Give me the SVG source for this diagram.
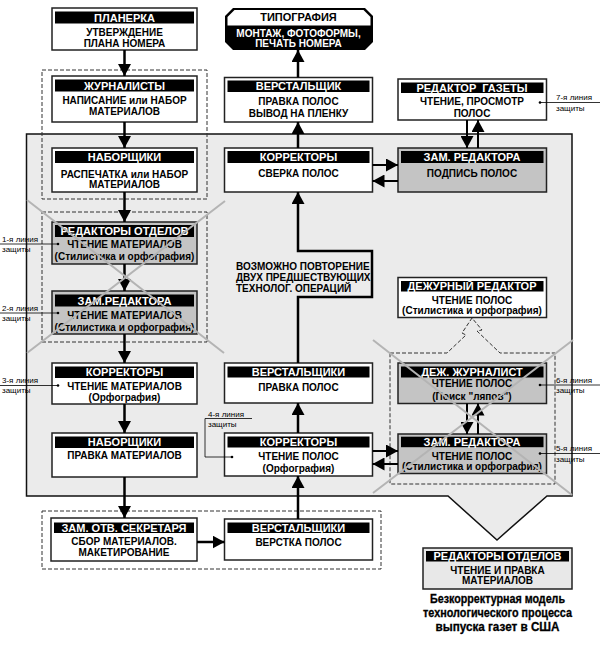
<svg xmlns="http://www.w3.org/2000/svg" width="600" height="645" viewBox="0 0 600 645">
<style>
.box{fill:#fff;stroke:#222;stroke-width:1.5}
.gbox{fill:#c4c4c4;stroke:#222;stroke-width:1.5}
.lbox{fill:#e8e8e8;stroke:#222;stroke-width:1.5}
.hdr{fill:#000}
.ht{font-family:"Liberation Sans",Arial,sans-serif;font-size:11px;font-weight:bold;fill:#fff;text-anchor:middle}
.bt{font-family:"Liberation Sans",Arial,sans-serif;font-size:10px;font-weight:bold;fill:#000;text-anchor:middle}
.note{font-family:"Liberation Sans",Arial,sans-serif;font-size:10px;font-weight:bold;fill:#000}
.lbl{font-family:"Liberation Sans",Arial,sans-serif;font-size:8px;fill:#000}
.cap{font-family:"Liberation Sans Narrow","Liberation Sans",Arial,sans-serif;font-size:12px;font-weight:bold;fill:#000;text-anchor:middle;stroke:#000;stroke-width:0.3}
.dash{fill:none;stroke:#333;stroke-width:1;stroke-dasharray:4 2}
.cn{fill:none;stroke:#000;stroke-width:2.5}
.cn2{fill:none;stroke:#000;stroke-width:2}
.lead{fill:none;stroke:#000;stroke-width:0.8}
.xl{stroke:#b4b4b4;stroke-width:2;fill:none}
</style>
<defs>
<marker id="ah" viewBox="0 0 12 13" refX="12" refY="6.5" markerWidth="12" markerHeight="13" markerUnits="userSpaceOnUse" orient="auto"><path d="M0,0 L12,6.5 L0,13 Z" fill="#000"/></marker>
</defs>

<g id="background">
<polygon points="26.5,134 572,134 572,496 547,496 497,540 448,496 26.5,496" fill="#ebebeb" stroke="#111" stroke-width="1.5"/>
</g>

<g id="groups">
<rect class="dash" x="42" y="70" width="165" height="129"/>
<rect class="dash" x="42" y="212" width="165" height="130"/>
<rect class="dash" x="42" y="511" width="339" height="58"/>
<path class="dash" d="M390,353 H447 L466,335 L462,333 L472,318 L482,330 L477,331 L500,353 H555 V484 H390 Z"/>
</g>

<g id="n-planerka">
<rect class="box" x="52" y="8" width="145" height="42"/>
<rect class="hdr" x="55" y="11.5" width="139" height="12"/>
<text class="ht" x="124.5" y="21.5">ПЛАНЕРКА</text>
<text class="bt" x="124.5" y="36">УТВЕРЖДЕНИЕ</text>
<text class="bt" x="124.5" y="47">ПЛАНА НОМЕРА</text>
</g>

<g id="n-zhurnalisty">
<rect class="box" x="52" y="76" width="145" height="46"/>
<rect class="hdr" x="55" y="79.5" width="139" height="12"/>
<text class="ht" x="124.5" y="89.5">ЖУРНАЛИСТЫ</text>
<text class="bt" x="124.5" y="103.5">НАПИСАНИЕ или НАБОР</text>
<text class="bt" x="124.5" y="115">МАТЕРИАЛОВ</text>
</g>

<g id="n-naborshchiki-1">
<rect class="box" x="52" y="148" width="145" height="44"/>
<rect class="hdr" x="55" y="151" width="139" height="12"/>
<text class="ht" x="124.5" y="161">НАБОРЩИКИ</text>
<text class="bt" x="124.5" y="177.5">РАСПЕЧАТКА или НАБОР</text>
<text class="bt" x="124.5" y="188">МАТЕРИАЛОВ</text>
</g>

<g id="n-redaktory-otdelov">
<rect class="gbox" x="52" y="222" width="145" height="42"/>
<rect class="hdr" x="55" y="225" width="139" height="12"/>
<text class="ht" x="124.5" y="235">РЕДАКТОРЫ ОТДЕЛОВ</text>
<text class="bt" x="124.5" y="247.5">ЧТЕНИЕ МАТЕРИАЛОВ</text>
<text class="bt" x="124.5" y="259.5">(Стилистика и орфография)</text>
</g>

<g id="n-zam-redaktora-1">
<rect class="gbox" x="52" y="291" width="145" height="43"/>
<rect class="hdr" x="55" y="294.5" width="139" height="12"/>
<text class="ht" x="124.5" y="305">ЗАМ.РЕДАКТОРА</text>
<text class="bt" x="124.5" y="318.5">ЧТЕНИЕ МАТЕРИАЛОВ</text>
<text class="bt" x="124.5" y="331">(Стилистика и орфография)</text>
</g>

<g id="n-korrektory-1">
<rect class="box" x="52" y="363" width="145" height="41"/>
<rect class="hdr" x="55" y="366.5" width="139" height="11.5"/>
<text class="ht" x="124.5" y="376.3">КОРРЕКТОРЫ</text>
<text class="bt" x="124.5" y="390.3">ЧТЕНИЕ МАТЕРИАЛОВ</text>
<text class="bt" x="124.5" y="401.3">(Орфография)</text>
</g>

<g id="n-naborshchiki-2">
<rect class="box" x="52" y="433" width="145" height="44"/>
<rect class="hdr" x="55" y="436.5" width="139" height="11.5"/>
<text class="ht" x="124.5" y="446.3">НАБОРЩИКИ</text>
<text class="bt" x="124.5" y="458.6">ПРАВКА МАТЕРИАЛОВ</text>
</g>

<g id="n-zam-otv-sekretarya">
<rect class="box" x="51" y="518" width="146" height="43"/>
<rect class="hdr" x="54" y="522.5" width="140" height="10.5"/>
<text class="ht" x="124" y="531.7">ЗАМ. ОТВ. СЕКРЕТАРЯ</text>
<text class="bt" x="124" y="545.3">СБОР МАТЕРИАЛОВ.</text>
<text class="bt" x="124" y="556.3">МАКЕТИРОВАНИЕ</text>
</g>

<g id="n-tipografiya">
<path d="M233,8 H365 L373,16 V42 L365,50 H233 L225,42 V16 Z" fill="#000"/>
<path d="M234.5,10 H363.5 L370.5,17 V25.5 H227.5 V17 Z" fill="#fff"/>
<text class="ht" x="298.5" y="20.8" style="fill:#000">ТИПОГРАФИЯ</text>
<text class="bt" x="298.5" y="37" style="fill:#fff">МОНТАЖ, ФОТОФОРМЫ,</text>
<text class="bt" x="298.5" y="47" style="fill:#fff">ПЕЧАТЬ НОМЕРА</text>
</g>

<g id="n-verstalshchik">
<rect class="box" x="224.5" y="77.5" width="148" height="44.5"/>
<rect class="hdr" x="227.5" y="80.5" width="142" height="11.5"/>
<text class="ht" x="298.5" y="90.2">ВЕРСТАЛЬЩИК</text>
<text class="bt" x="298.5" y="104.6">ПРАВКА ПОЛОС</text>
<text class="bt" x="298.5" y="116.8">ВЫВОД НА ПЛЕНКУ</text>
</g>

<g id="n-korrektory-2">
<rect class="box" x="224.5" y="148" width="148" height="44"/>
<rect class="hdr" x="227.5" y="151" width="142" height="12"/>
<text class="ht" x="298.5" y="161">КОРРЕКТОРЫ</text>
<text class="bt" x="298.5" y="176.8">СВЕРКА ПОЛОС</text>
</g>

<g id="n-verstalshchiki-2">
<rect class="box" x="224.5" y="363" width="148" height="40"/>
<rect class="hdr" x="227.5" y="366.5" width="142" height="11"/>
<text class="ht" x="298.5" y="376">ВЕРСТАЛЬЩИКИ</text>
<text class="bt" x="298.5" y="390.6">ПРАВКА ПОЛОС</text>
</g>

<g id="n-korrektory-3">
<rect class="box" x="224.5" y="433" width="148" height="43"/>
<rect class="hdr" x="227.5" y="436.5" width="142" height="11"/>
<text class="ht" x="298.5" y="446">КОРРЕКТОРЫ</text>
<text class="bt" x="298.5" y="460.3">ЧТЕНИЕ ПОЛОС</text>
<text class="bt" x="298.5" y="471.5">(Орфография)</text>
</g>

<g id="n-verstalshchiki-3">
<rect class="box" x="224.5" y="519" width="148" height="41"/>
<rect class="hdr" x="227.5" y="522.5" width="142" height="10.5"/>
<text class="ht" x="298.5" y="532">ВЕРСТАЛЬЩИКИ</text>
<text class="bt" x="298.5" y="545.6">ВЕРСТКА ПОЛОС</text>
</g>

<g id="n-redaktor-gazety">
<rect class="box" x="398" y="79" width="148.5" height="41"/>
<rect class="hdr" x="401" y="82.5" width="142.5" height="10.5"/>
<text class="ht" x="472" y="92" xml:space="preserve">РЕДАКТОР  ГАЗЕТЫ</text>
<text class="bt" x="472" y="105.3">ЧТЕНИЕ, ПРОСМОТР</text>
<text class="bt" x="472" y="117">ПОЛОС</text>
</g>

<g id="n-zam-redaktora-2">
<rect class="gbox" x="398" y="148" width="148.5" height="44"/>
<rect class="hdr" x="401" y="151" width="142.5" height="12"/>
<text class="ht" x="472" y="161">ЗАМ. РЕДАКТОРА</text>
<text class="bt" x="472" y="176.6">ПОДПИСЬ ПОЛОС</text>
</g>

<g id="n-dezhurny-redaktor">
<rect class="box" x="398" y="277.5" width="148.5" height="40"/>
<rect class="hdr" x="401" y="281" width="142.5" height="10.5"/>
<text class="ht" x="472" y="290.2">ДЕЖУРНЫЙ РЕДАКТОР</text>
<text class="bt" x="472" y="303.6">ЧТЕНИЕ ПОЛОС</text>
<text class="bt" x="472" y="313.5">(Стилистика и орфография)</text>
</g>

<g id="n-dezh-zhurnalist">
<rect class="gbox" x="398" y="363" width="148.5" height="40.5"/>
<rect class="hdr" x="401" y="366.5" width="142.5" height="11"/>
<text class="ht" x="472" y="376">ДЕЖ. ЖУРНАЛИСТ</text>
<text class="bt" x="472" y="387">ЧТЕНИЕ ПОЛОС</text>
<text class="bt" x="472" y="399.5">(Поиск "ляпов")</text>
</g>

<g id="n-zam-redaktora-3">
<rect class="gbox" x="398" y="434" width="148.5" height="39.5"/>
<rect class="hdr" x="401" y="436.7" width="142.5" height="10.5"/>
<text class="ht" x="472" y="445.7">ЗАМ. РЕДАКТОРА</text>
<text class="bt" x="472" y="459.6">ЧТЕНИЕ ПОЛОС</text>
<text class="bt" x="472" y="469.8">(Стилистика и орфография)</text>
</g>

<g id="n-redaktory-otdelov-2">
<rect class="lbox" x="423" y="548" width="149" height="41"/>
<rect class="hdr" x="426" y="551" width="143" height="10.5"/>
<text class="ht" x="497.5" y="560.2">РЕДАКТОРЫ ОТДЕЛОВ</text>
<text class="bt" x="497.5" y="573.6">ЧТЕНИЕ И ПРАВКА</text>
<text class="bt" x="497.5" y="583.8">МАТЕРИАЛОВ</text>
</g>

<g id="connectors">
<path class="cn" marker-end="url(#ah)" d="M124.5,50 V76"/>
<path class="cn" marker-end="url(#ah)" d="M124.5,122 V148"/>
<path class="cn" marker-end="url(#ah)" d="M124.5,192 V222"/>
<path class="cn" marker-end="url(#ah)" d="M124.5,264 V291"/>
<path class="cn" marker-end="url(#ah)" d="M124.5,334 V363"/>
<path class="cn" marker-end="url(#ah)" d="M124.5,404 V433"/>
<path class="cn" marker-end="url(#ah)" d="M124.5,477 V518"/>
<path class="cn" marker-end="url(#ah)" d="M197,542 H224.5"/>
<path class="cn" marker-end="url(#ah)" d="M298,519 V476"/>
<path class="cn" marker-end="url(#ah)" d="M298,433 V403"/>
<path class="cn" marker-end="url(#ah)" d="M298,363 V297 H372 V251 H298 V192"/>
<path class="cn" marker-end="url(#ah)" d="M298,148 V122"/>
<path class="cn" marker-end="url(#ah)" d="M298,77.5 V50"/>
<path class="cn2" marker-end="url(#ah)" d="M467,120 V148"/>
<path class="cn2" marker-end="url(#ah)" d="M478,148 V120"/>
<path class="cn2" marker-end="url(#ah)" d="M372.5,165 H398"/>
<path class="cn2" marker-end="url(#ah)" d="M398,181 H372.5"/>
<path class="cn2" marker-end="url(#ah)" d="M467,403.5 V434"/>
<path class="cn2" marker-end="url(#ah)" d="M478,434 V403.5"/>
<path class="cn2" marker-end="url(#ah)" d="M372.5,451 H398"/>
<path class="cn2" marker-end="url(#ah)" d="M398,464 H372.5"/>
</g>

<g id="note">
<text class="note" x="236" y="269.5">ВОЗМОЖНО ПОВТОРЕНИЕ</text>
<text class="note" x="236" y="280.5">ДВУХ ПРЕДШЕСТВУЮЩИХ</text>
<text class="note" x="236" y="291.5">ТЕХНОЛОГ. ОПЕРАЦИЙ</text>
</g>

<g id="cross-lines">
<line class="xl" x1="27" y1="200" x2="224" y2="353"/>
<line class="xl" x1="225" y1="201" x2="27" y2="353"/>
<line class="xl" x1="373" y1="340" x2="572" y2="495"/>
<line class="xl" x1="573" y1="340" x2="373" y2="493"/>
</g>

<g id="defense-lines">
<text class="lbl" x="2" y="242">1-я линия</text>
<text class="lbl" x="2" y="252">защиты</text>
<path class="lead" d="M0,244 H58"/><circle cx="58" cy="244" r="1.3"/>
<text class="lbl" x="2" y="311">2-я линия</text>
<text class="lbl" x="2" y="321">защиты</text>
<path class="lead" d="M0,313 H58"/><circle cx="58" cy="313" r="1.3"/>
<text class="lbl" x="2" y="383">3-я линия</text>
<text class="lbl" x="2" y="393">защиты</text>
<path class="lead" d="M0,385.5 H58"/><circle cx="58" cy="385.5" r="1.3"/>
<text class="lbl" x="208" y="416.5">4-я линия</text>
<text class="lbl" x="208" y="427">защиты</text>
<path class="lead" d="M252,418.5 H205 V457 H232"/><circle cx="232" cy="457" r="1.3"/>
<text class="lbl" x="556" y="451">5-я линия</text>
<text class="lbl" x="556" y="462">защиты</text>
<path class="lead" d="M540,453.5 H600"/><circle cx="540" cy="453.5" r="1.3"/>
<text class="lbl" x="556" y="382.5">6-я линия</text>
<text class="lbl" x="556" y="393">защиты</text>
<path class="lead" d="M540,385 H600"/><circle cx="540" cy="385" r="1.3"/>
<text class="lbl" x="556" y="100">7-я линия</text>
<text class="lbl" x="556" y="111">защиты</text>
<path class="lead" d="M540,102.5 H600"/><circle cx="540" cy="102.5" r="1.3"/>
</g>

<g id="caption">
<text class="cap" x="497.5" y="603" textLength="135" lengthAdjust="spacingAndGlyphs">Безкорректурная модель</text>
<text class="cap" x="497.5" y="617" textLength="149" lengthAdjust="spacingAndGlyphs">технологического процесса</text>
<text class="cap" x="497.5" y="631" textLength="124" lengthAdjust="spacingAndGlyphs">выпуска газет в США</text>
</g>
</svg>
